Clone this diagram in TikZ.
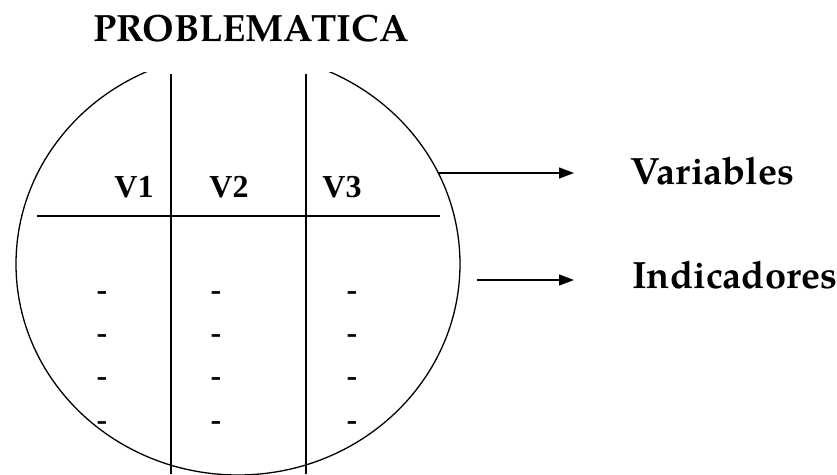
\documentclass[tikz,border=0pt]{standalone}
\usepackage{fontspec}
\setmainfont{Liberation Serif}
\newfontfamily\palfont{TeX Gyre Pagella}
\usetikzlibrary{arrows.meta}
\tikzset{
  ttl/.style={font=\palfont\bfseries\fontsize{38}{42}\selectfont, inner sep=0pt, anchor=base},
  lbl/.style={font=\palfont\bfseries\fontsize{38}{42}\selectfont, inner sep=0pt, anchor=base west},
  vlab/.style={font=\bfseries\fontsize{32}{36}\selectfont, inner sep=0pt, anchor=base},
  dsh/.style={font=\bfseries\fontsize{32}{36}\selectfont, inner sep=0pt, anchor=base},
  rule/.style={line width=1.6pt},
  arr/.style={line width=1.3pt, -{Triangle[length=15pt,width=11pt]}},
}
\begin{document}
\begin{tikzpicture}[x=1pt,y=-1pt]
\useasboundingbox (0,0) rectangle (837,474);
\node[ttl] (title) at (251,41) {PROBLEMATICA};
\begin{scope}
  \clip (0,72) rectangle (837,474);
  \draw[line width=1.3pt] (238,264) ellipse [x radius=222, y radius=211];
\end{scope}
\coordinate (c1t) at (171,74); \coordinate (c1b) at (171,474);
\coordinate (c2t) at (306,74); \coordinate (c2b) at (306,474);
\coordinate (hl) at (37,216); \coordinate (hr) at (440,216);
\draw[rule] (c1t) -- (c1b);
\draw[rule] (c2t) -- (c2b);
\draw[rule] (hl) -- (hr);
\node[vlab] (v1) at (134,197) {V1};
\node[vlab] (v2) at (229,197) {V2};
\node[vlab] (v3) at (342,197) {V3};
\foreach \c/\x in {a/102,b/216,c/352}{
  \foreach \r/\y in {1/292,2/335,3/378,4/422}{
    \node[dsh] (d\c\r) at (\x,\y+8) {-};
  }
}
\node[lbl] (var) at (630,184) {Variables};
\node[lbl] (ind) at (632,288) {Indicadores};
\coordinate (a1s) at (438,173); \coordinate (a1e) at (574,173);
\coordinate (a2s) at (477,280); \coordinate (a2e) at (574,280);
\draw[arr] (a1s) -- (a1e);
\draw[arr] (a2s) -- (a2e);
\end{tikzpicture}
\end{document}
